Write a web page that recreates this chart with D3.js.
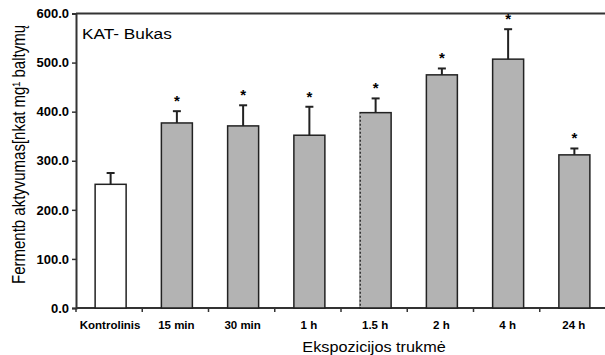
<!DOCTYPE html>
<html>
<head>
<meta charset="utf-8">
<script src="https://cdn.jsdelivr.net/npm/d3@7"></script>
<style>
  html, body { margin: 0; padding: 0; background: #fff; }
  svg { display: block; }
  text { font-family: "Liberation Sans", Arial, sans-serif; fill: #000; }
</style>
</head>
<body>
<svg id="chart" width="605" height="355"></svg>
<script>
const categories = ["Kontrolinis", "15 min", "30 min", "1 h", "1.5 h", "2 h", "4 h", "24 h"];
const values = [252, 377, 371, 352, 398, 475, 507, 312];
const errors = [23, 24, 42, 58, 29, 13, 61, 13];
const significant = [false, true, true, true, true, true, true, true];
const yTicks = [0, 100, 200, 300, 400, 500, 600];
const title = "KAT- Bukas";
const xTitle = "Ekspozicijos trukmė";
const yTitle = "Fermentb aktyvumas[nkat mg¹ baltymų";

const svg = d3.select("#chart");
const mLeft = 76, mRight = 606, mTop = 13.5, mBottom = 308;

const x = d3.scaleBand().domain(categories).range([mLeft, mRight]).paddingInner(0).paddingOuter(0);
const y = d3.scaleLinear().domain([0, 600]).range([mBottom, mTop]);
const barW = 31;

// Top frame line
svg.append("line").attr("x1", mLeft).attr("x2", 605).attr("y1", y(600)).attr("y2", y(600))
  .attr("stroke", "#333").attr("stroke-width", 2);

// Y axis
const yAxis = svg.append("g").attr("transform", `translate(${mLeft},0)`)
  .call(d3.axisLeft(y).tickValues(yTicks).tickFormat(d3.format(".1f")).tickSize(4).tickPadding(3));
yAxis.select(".domain").attr("stroke", "#333").attr("stroke-width", 2);
yAxis.selectAll(".tick line").attr("stroke", "#333").attr("stroke-width", 1.5);
yAxis.selectAll(".tick text").attr("font-size", 13).attr("font-weight", "bold")
  .attr("font-family", "Liberation Sans, Arial, sans-serif").attr("fill", "#000");

// X axis: ticks at band boundaries
const xAxisG = svg.append("g").attr("transform", `translate(0,${mBottom})`);
xAxisG.append("line").attr("x1", mLeft).attr("x2", 605).attr("y1", 0).attr("y2", 0)
  .attr("stroke", "#333").attr("stroke-width", 2);
const boundaries = categories.map(c => x(c)).concat([x(categories[categories.length-1]) + x.bandwidth()]);
xAxisG.selectAll("line.tk").data(boundaries.filter(b => b < 605)).enter().append("line")
  .attr("class", "tk").attr("x1", d => d).attr("x2", d => d).attr("y1", 0).attr("y2", 4)
  .attr("stroke", "#333").attr("stroke-width", 1.5);
xAxisG.selectAll("text").data(categories).enter().append("text")
  .attr("x", d => x(d) + x.bandwidth() / 2 + 1)
  .attr("y", 21)
  .attr("text-anchor", "middle")
  .attr("font-size", 11.5).attr("font-weight", "bold")
  .text(d => d);

// Bars
const cx = c => x(c) + x.bandwidth() / 2 + 1.5;
svg.selectAll("rect.bar").data(categories).enter().append("rect")
  .attr("class", "bar")
  .attr("x", d => cx(d) - barW / 2)
  .attr("y", (d, i) => y(values[i]))
  .attr("width", barW)
  .attr("height", (d, i) => y(0) - y(values[i]))
  .attr("fill", (d, i) => i === 0 ? "#ffffff" : "#b3b3b3")
  .attr("stroke", "#222").attr("stroke-width", 1.5);

// dashed-looking left edge of the "1.5 h" bar
const c15 = categories[4];
svg.append("line")
  .attr("x1", cx(c15) - barW / 2).attr("x2", cx(c15) - barW / 2)
  .attr("y1", y(values[4]) + 1).attr("y2", y(0) - 1)
  .attr("stroke", "#c8c8c8").attr("stroke-width", 1.5).attr("stroke-dasharray", "2,2");

// Error bars
const eb = svg.selectAll("g.err").data(categories).enter().append("g").attr("class", "err");
eb.append("line")
  .attr("x1", d => cx(d)).attr("x2", d => cx(d))
  .attr("y1", (d, i) => y(values[i]))
  .attr("y2", (d, i) => y(values[i] + errors[i]))
  .attr("stroke", "#222").attr("stroke-width", 2);
eb.append("line")
  .attr("x1", d => cx(d) - 4).attr("x2", d => cx(d) + 4)
  .attr("y1", (d, i) => y(values[i] + errors[i]))
  .attr("y2", (d, i) => y(values[i] + errors[i]))
  .attr("stroke", "#222").attr("stroke-width", 2);

// Significance asterisks
svg.selectAll("text.sig").data(categories.filter((d, i) => significant[i])).enter().append("text")
  .attr("class", "sig")
  .attr("x", d => cx(d))
  .attr("y", d => { const i = categories.indexOf(d); return y(values[i] + errors[i]) - 5; })
  .attr("text-anchor", "middle")
  .attr("font-size", 15).attr("font-weight", "bold")
  .text("*");

// Title inside plot
svg.append("text").attr("transform", "translate(82,39) scale(1.15,1)").attr("font-size", 15).text(title);

// Axis titles
svg.append("text").attr("transform", "translate(374,351.5) scale(1.12,1)").attr("text-anchor", "middle")
  .attr("font-size", 14.5).text(xTitle);
svg.append("text").attr("transform", "translate(24.5,154.5) scale(1.2,1) rotate(-90)")
  .attr("text-anchor", "middle").attr("font-size", 15).text(yTitle);
</script>
</body>
</html>
